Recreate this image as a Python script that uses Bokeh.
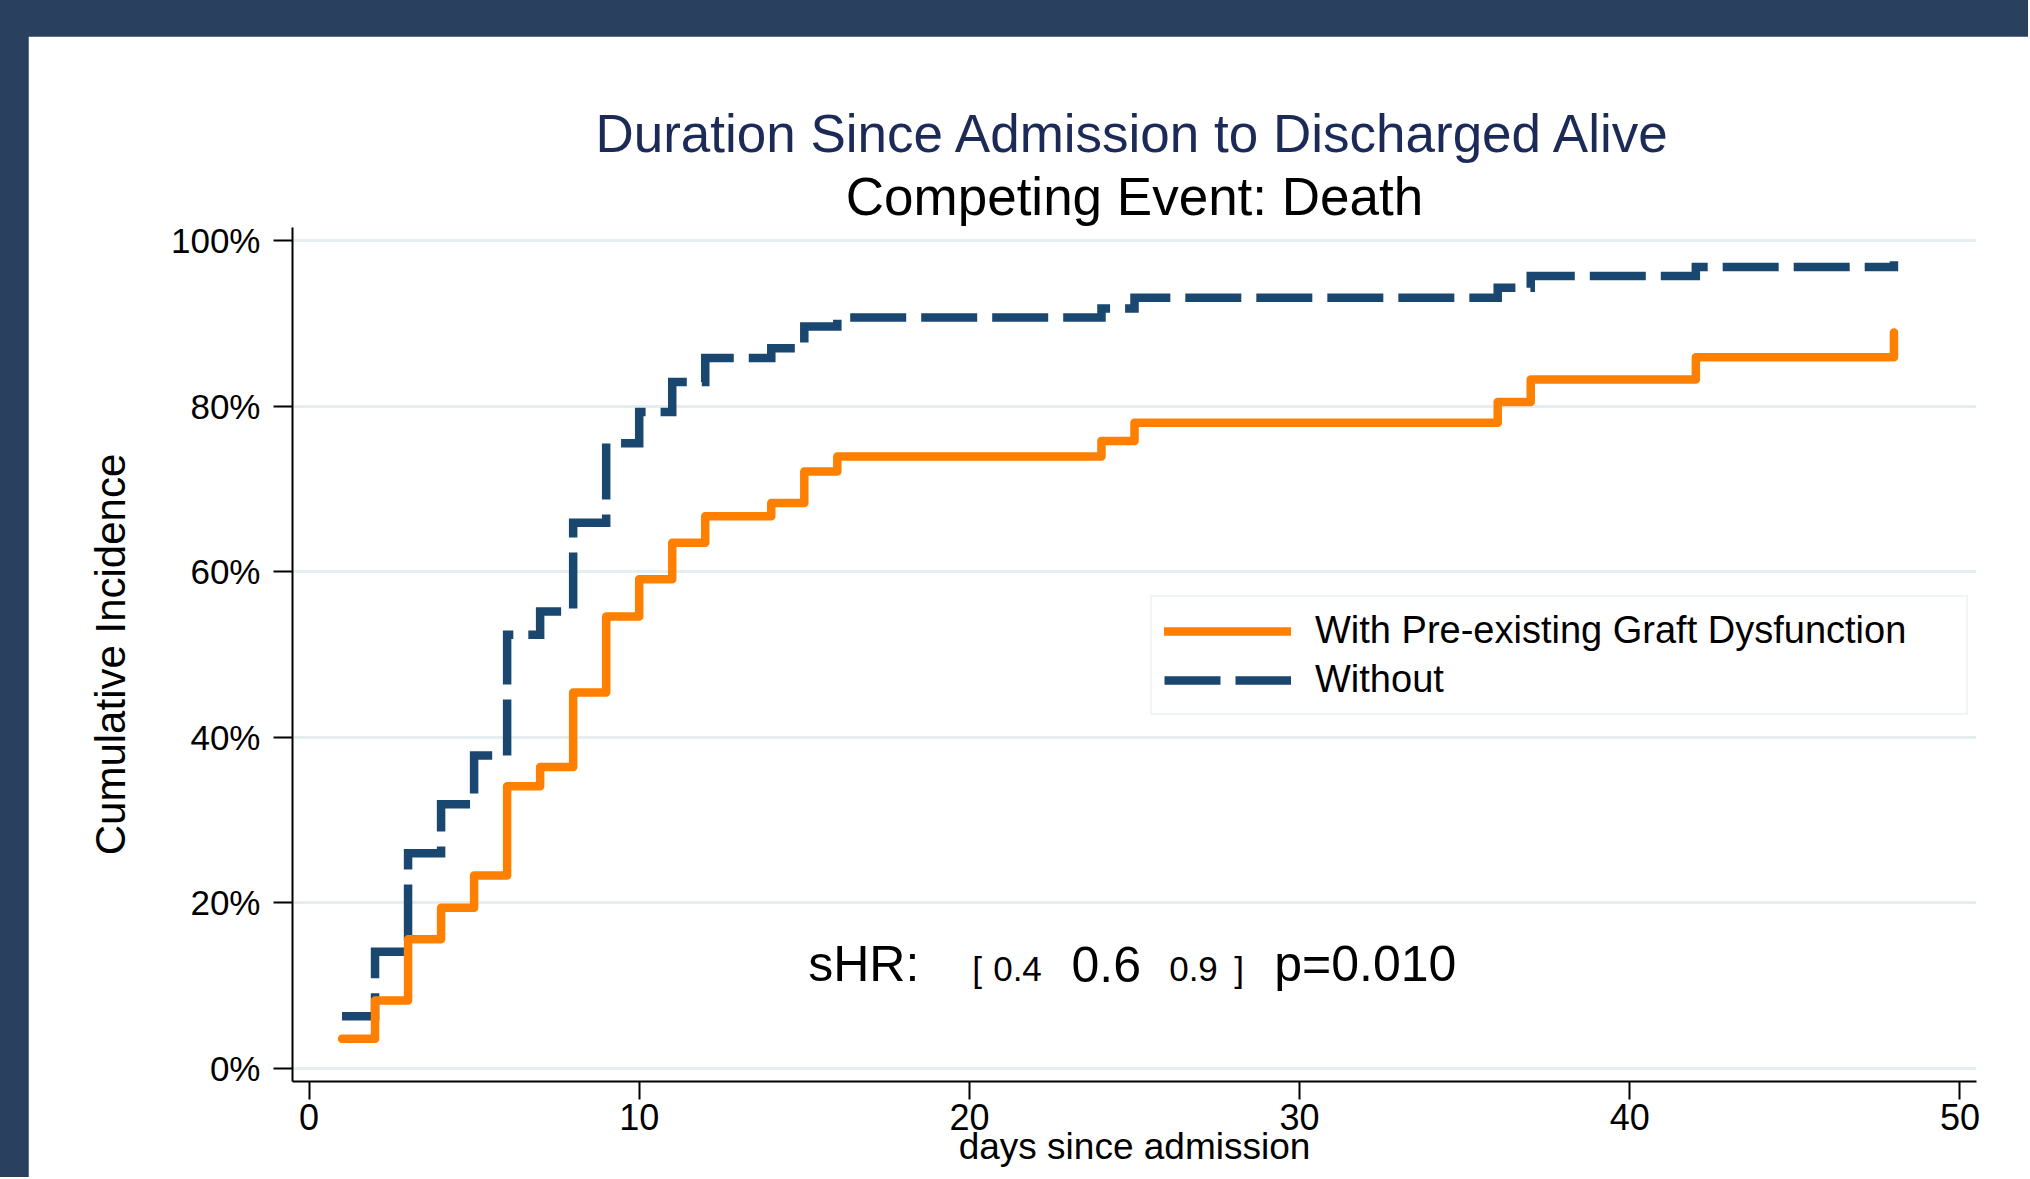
from bokeh.plotting import figure
from bokeh.models import (Range1d, FixedTicker, PrintfTickFormatter, Legend,
                          LegendItem, Title, ColumnDataSource)
from bokeh.layouts import column
from bokeh.embed import file_html
from bokeh.resources import INLINE
from bokeh.core.properties import value

# ---- data ----
days = [1, 2, 3, 4, 5, 6, 7, 8, 9, 10, 11, 12, 14, 15, 16, 24, 25, 36, 37, 42, 48]
with_pgd = [3.6, 8.2, 15.6, 19.4, 23.3, 34.1, 36.4, 45.4, 54.6, 59.1, 63.5, 66.7,
            68.3, 72.1, 73.9, 75.8, 78.0, 80.5, 83.2, 85.9, 88.9]
without_pgd = [6.3, 14.1, 26.0, 31.9, 37.8, 52.4, 55.2, 65.9, 75.5, 79.3, 82.9, 85.8,
               87.0, 89.6, 90.7, 91.8, 93.1, 94.3, 95.7, 96.8, 97.5]
series_names = ["With Pre-existing Graft Dysfunction", "Without"]
x_ticks = [0, 10, 20, 30, 40, 50]
y_ticks = [0, 20, 40, 60, 80, 100]
title_1 = "Duration Since Admission to Discharged Alive"
title_2 = "Competing Event: Death"
x_title = "days since admission"
y_title = "Cumulative Incidence"
shr_parts = ["sHR:", "[", "0.4", "0.6", "0.9", "]", "p=0.010"]
shr_x = [15.12, 20.09, 20.72, 23.09, 26.05, 28.02, 29.23]
shr_size = [50, 35, 35, 50, 35, 35, 50]
shr_base = 10.5

FONT = "Liberation Sans"
ORANGE = "#ff8000"
NAVY = "#1a476f"
BAND = "#29405f"
GRID = "#e6eef0"

PX_PER_PCT = 8.28  # frame height 854 px over 103.14 units

p = figure(width=2000, height=1141, output_backend="svg", toolbar_location=None,
           title=None,
           x_range=Range1d(-0.5, 50.5), y_range=Range1d(-1.57, 101.57),
           min_border_left=264, min_border_top=191, min_border_right=52,
           min_border_bottom=96)
# hide the frame outline completely (white on white)
p.outline_line_color = "white"
p.outline_line_width = 4
p.background_fill_color = "white"
p.border_fill_color = "white"

# axes
p.xaxis.ticker = FixedTicker(ticks=x_ticks)
p.yaxis.ticker = FixedTicker(ticks=y_ticks)
p.yaxis.formatter = PrintfTickFormatter(format="%d%%")
for ax in (p.xaxis, p.yaxis):
    ax.axis_line_color = "black"
    ax.axis_line_width = 2
    ax.major_tick_line_color = "black"
    ax.major_tick_line_width = 2
    ax.major_tick_in = 0
    ax.minor_tick_line_color = None
    ax.major_label_text_font = FONT
    ax.major_label_text_color = "black"
    ax.axis_label_text_font = FONT
    ax.axis_label_text_font_style = "normal"
    ax.axis_label_text_color = "black"
p.xaxis.major_tick_out = 18
p.yaxis.major_tick_out = 19
p.xaxis.major_label_text_font_size = "36px"
p.yaxis.major_label_text_font_size = "35px"
p.xaxis.major_label_standoff = 4
p.yaxis.major_label_standoff = 13
p.yaxis.axis_label = y_title
p.yaxis.axis_label_text_font_size = "42px"
p.yaxis.axis_label_standoff = 34
p.xaxis.axis_label = x_title
p.xaxis.axis_label_text_font_size = "37px"
p.xaxis.axis_label_standoff = -7

# horizontal grid lines at the y ticks
p.xgrid.visible = False
p.ygrid.ticker = FixedTicker(ticks=y_ticks)
p.ygrid.grid_line_color = GRID
p.ygrid.grid_line_width = 3

# curves
r_without = p.step(days, without_pgd, mode="after", line_color=NAVY, line_width=8.5,
                   line_dash="56 15", line_cap="butt", line_join="miter")
r_with = p.step(days, with_pgd, mode="after", line_color=ORANGE, line_width=8.5,
                line_cap="round", line_join="round")

legend = Legend(items=[LegendItem(label=series_names[0], renderers=[r_with]),
                       LegendItem(label=series_names[1], renderers=[r_without])],
                location=(858, 366), orientation="vertical", margin=0,
                padding=12, spacing=6, glyph_width=127, glyph_height=40,
                label_height=40, label_width=639, label_standoff=24,
                label_text_font=FONT, label_text_font_size="38px",
                label_text_color="black", border_line_color="#e2eaea",
                border_line_width=2, background_fill_color="white",
                background_fill_alpha=1.0)
p.add_layout(legend)

# two-line title, centred over the plot region (nearest line added first)
p.add_layout(Title(text=title_2, align="center", text_font=FONT,
                   text_font_size="53px", text_font_style="normal",
                   text_color="black", standoff=4), "above")
p.add_layout(Title(text=title_1, align="center", text_font=FONT,
                   text_font_size="53px", text_font_style="normal",
                   text_color="#1c2a58", standoff=0), "above")

# sHR annotation, all parts on one baseline
shr_src = ColumnDataSource(dict(
    x=shr_x,
    y=[shr_base + 0.3465 * s / PX_PER_PCT for s in shr_size],
    text=shr_parts,
    size=[f"{s}px" for s in shr_size],
))
p.text(x="x", y="y", text="text", source=shr_src, text_font=value(FONT),
       text_font_size="size", text_align="left", text_baseline="middle",
       text_color="black")

page = column(p, styles={"background-color": BAND, "padding-top": "36px",
                         "padding-left": "28px"})

open("out.html", "w").write(file_html(page, INLINE))
